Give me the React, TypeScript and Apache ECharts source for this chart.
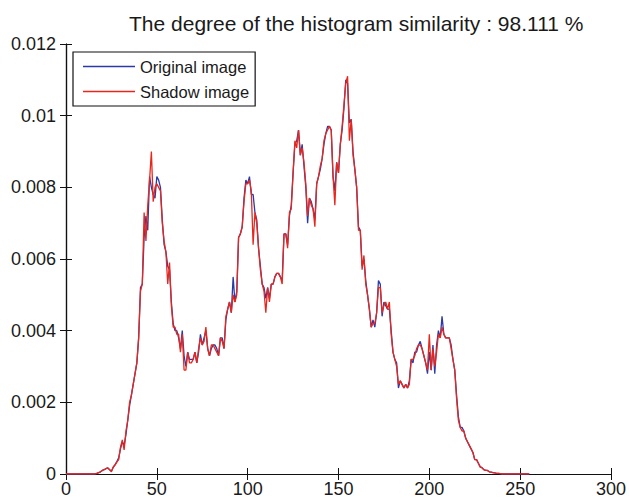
import React, { useEffect, useRef } from "react";
import * as echarts from "echarts";

const TITLE = "The degree of the histogram similarity : 98.111 %";
const SERIES_NAMES = ["Original image", "Shadow image"];
const X_TICKS = [0, 50, 100, 150, 200, 250, 300];
const Y_TICKS = [0, 0.002, 0.004, 0.006, 0.008, 0.01, 0.012];

// gray levels 0..255
const originalImage: number[] = [
  0, 0, 0, 0, 0, 0, 0, 0, 0, 0,
  0, 0, 0, 0, 0, 0, 0, 0.00002, 0.00004, 0.00006,
  0.0001, 0.00012, 0.00015, 0.00017, 0.00012, 0.00008, 0.00018, 0.00026, 0.00035, 0.00045,
  0.0007, 0.0009, 0.0008, 0.0011, 0.0015, 0.0019, 0.0022, 0.0025, 0.0028, 0.0031,
  0.0038, 0.0052, 0.0053, 0.0066, 0.0072, 0.0068, 0.0083, 0.008, 0.0078, 0.0077,
  0.0083, 0.0082, 0.008, 0.0071, 0.0064, 0.0062, 0.0058, 0.0057, 0.0048, 0.0042,
  0.004, 0.004, 0.0038, 0.0035, 0.004, 0.0033, 0.003, 0.0034, 0.0032, 0.0032,
  0.0032, 0.0034, 0.0031, 0.0034, 0.0039, 0.0036, 0.0038, 0.004, 0.0035, 0.0033,
  0.0035, 0.0036, 0.0036, 0.0035, 0.0033, 0.0038, 0.0038, 0.0035, 0.0043, 0.0046,
  0.0048, 0.0045, 0.0055, 0.0048, 0.0051, 0.0066, 0.0067, 0.0069, 0.0077, 0.0082,
  0.0081, 0.0083, 0.0078, 0.0078, 0.0073, 0.0071, 0.0063, 0.0058, 0.0053, 0.0052,
  0.0049, 0.0052, 0.0049, 0.0053, 0.0053, 0.0055, 0.0056, 0.0056, 0.0055, 0.0054,
  0.0067, 0.0067, 0.0064, 0.0072, 0.0075, 0.0084, 0.0092, 0.0093, 0.0096, 0.0089,
  0.0092, 0.0086, 0.008, 0.007, 0.0077, 0.0076, 0.0074, 0.0071, 0.0081, 0.0083,
  0.0085, 0.0088, 0.0092, 0.0095, 0.0097, 0.0097, 0.0096, 0.0083, 0.0079, 0.0087,
  0.0084, 0.0092, 0.0096, 0.0102, 0.011, 0.0109, 0.0098, 0.0099, 0.009, 0.0085,
  0.008, 0.0069, 0.0068, 0.0058, 0.006, 0.0054, 0.005, 0.0046, 0.0041, 0.0043,
  0.0041, 0.0045, 0.0054, 0.0053, 0.0044, 0.0048, 0.0047, 0.0046, 0.0046, 0.004,
  0.0034, 0.0032, 0.0031, 0.0024, 0.0026, 0.0025, 0.0024, 0.0025, 0.0024, 0.0026,
  0.0032, 0.0031, 0.0034, 0.0034, 0.0036, 0.0037, 0.0035, 0.0033, 0.0031, 0.0028,
  0.0034, 0.0029, 0.0036, 0.0028, 0.0036, 0.004, 0.0038, 0.0044, 0.0039, 0.0038,
  0.0038, 0.0038, 0.0036, 0.0032, 0.0029, 0.0022, 0.0016, 0.0013, 0.0013, 0.0012,
  0.001, 0.0009, 0.0008, 0.0007, 0.0006, 0.0004, 0.0004, 0.0003, 0.0002, 0.00018,
  0.00012, 0.0001, 0.0001, 0.00006, 0.00005, 0.00004, 0.00003, 0.00002, 0.00002, 0.00001,
  0, 0, 0, 0, 0, 0, 0, 0, 0, 0,
  0, 0, 0, 0, 0, 0,
];

const shadowImage: number[] = [
  0, 0, 0, 0, 0, 0, 0, 0, 0, 0,
  0, 0, 0, 0, 0, 0, 0, 0.00002, 0.00004, 0.00006,
  0.0001, 0.00012, 0.00015, 0.00017, 0.00012, 0.00006, 0.0002, 0.00025, 0.00033, 0.0004,
  0.00075, 0.00095, 0.00067, 0.0012, 0.0015, 0.002, 0.0022, 0.0025, 0.0028, 0.0031,
  0.0038, 0.0051, 0.0053, 0.0073, 0.0065, 0.0075, 0.0082, 0.009, 0.0076, 0.008,
  0.0081, 0.008, 0.0079, 0.007, 0.0065, 0.0062, 0.0053, 0.0059, 0.0047, 0.0041,
  0.0041, 0.0039, 0.0039, 0.0034, 0.0039, 0.0029, 0.0029, 0.0034, 0.0031, 0.0031,
  0.0032, 0.0034, 0.0031, 0.0035, 0.0038, 0.0036, 0.0037, 0.0041, 0.0035, 0.0033,
  0.0036, 0.0036, 0.0035, 0.0034, 0.0033, 0.0038, 0.0037, 0.0035, 0.0044, 0.0046,
  0.0048, 0.0045, 0.005, 0.0048, 0.005, 0.0066, 0.0067, 0.0069, 0.0076, 0.0081,
  0.0081, 0.0082, 0.0079, 0.0064, 0.0073, 0.007, 0.0063, 0.0057, 0.0053, 0.0051,
  0.0045, 0.0052, 0.0048, 0.0053, 0.0053, 0.0055, 0.0056, 0.0056, 0.0055, 0.0053,
  0.0067, 0.0067, 0.0063, 0.0073, 0.0074, 0.0084, 0.0093, 0.0091, 0.0096, 0.0089,
  0.0091, 0.0087, 0.0081, 0.0072, 0.0077, 0.0075, 0.0074, 0.0069, 0.0081, 0.0083,
  0.0086, 0.0088, 0.0093, 0.0095, 0.0096, 0.0097, 0.0096, 0.0083, 0.0075, 0.0087,
  0.0084, 0.0092, 0.0097, 0.0103, 0.0109, 0.0111, 0.0093, 0.0099, 0.0089, 0.0085,
  0.008, 0.0068, 0.0068, 0.0057, 0.0061, 0.0053, 0.005, 0.0046, 0.0041, 0.0042,
  0.0042, 0.0045, 0.0052, 0.0052, 0.0045, 0.0047, 0.0048, 0.0046, 0.0048, 0.0039,
  0.0034, 0.0032, 0.003, 0.0025, 0.0026, 0.0025, 0.0024, 0.0025, 0.0024, 0.0025,
  0.0032, 0.0032, 0.0033, 0.0035, 0.0036, 0.0036, 0.0035, 0.0033, 0.0031, 0.0029,
  0.0039, 0.0029, 0.0035, 0.003, 0.0034, 0.0039, 0.0038, 0.0041, 0.0039, 0.0038,
  0.0038, 0.0038, 0.0035, 0.0032, 0.0029, 0.0021, 0.0015, 0.0013, 0.0012, 0.0012,
  0.001, 0.0009, 0.0008, 0.0007, 0.0006, 0.0004, 0.0004, 0.0003, 0.0002, 0.00017,
  0.00012, 0.0001, 0.0001, 0.00006, 0.00005, 0.00004, 0.00003, 0.00002, 0.00002, 0.00001,
  0, 0, 0, 0, 0, 0, 0, 0, 0, 0,
  0, 0, 0, 0, 0, 0,
];

const FONT = "'Liberation Sans', Arial, Helvetica, sans-serif";
const TEXT = "#1a1a1a";

export default function App() {
  const ref = useRef<HTMLDivElement>(null);
  useEffect(() => {
    if (!ref.current) return;
    const chart = echarts.init(ref.current, undefined, { renderer: "svg" });
    const toPairs = (arr: number[]) => arr.map((v, i) => [i, v]);
    const axisCommon = {
      axisLine: { show: true, lineStyle: { color: "#111", width: 1.2 } },
      axisTick: { show: true, inside: true, length: 6, lineStyle: { color: "#111" } },
      splitLine: { show: false },
    };
    chart.setOption({
      animation: false,
      backgroundColor: "#fff",
      title: {
        text: TITLE,
        left: 124,
        top: 8,
        textStyle: { fontFamily: FONT, fontSize: 21, fontWeight: "normal", color: TEXT },
      },
      legend: {
        orient: "vertical",
        left: 73,
        top: 52,
        data: SERIES_NAMES,
        icon: "rect",
        itemWidth: 52,
        itemHeight: 1.5,
        itemGap: 8,
        borderColor: "#111",
        borderWidth: 1.2,
        padding: [6, 6, 6, 10],
        textStyle: { fontFamily: FONT, fontSize: 16.5, color: TEXT },
      },
      grid: { left: 66, right: 18, top: 44, bottom: 29 },
      xAxis: [
        {
          type: "value",
          min: 0,
          max: 300,
          interval: 50,
          ...axisCommon,
          axisLabel: { fontFamily: FONT, fontSize: 18, color: TEXT, margin: 6 },
        },
        {
          type: "value",
          position: "top",
          min: 0,
          max: 300,
          interval: 50,
          ...axisCommon,
          axisLabel: { show: false },
        },
      ],
      yAxis: [
        {
          type: "value",
          min: 0,
          max: 0.012,
          interval: 0.002,
          ...axisCommon,
          axisLabel: {
            fontFamily: FONT,
            fontSize: 18,
            color: TEXT,
            margin: 10,
            formatter: (v: number) => {
              const t = Y_TICKS.find((y) => Math.abs(y - v) < 1e-9);
              return t === undefined ? "" : String(t);
            },
          },
        },
        {
          type: "value",
          position: "right",
          min: 0,
          max: 0.012,
          interval: 0.002,
          ...axisCommon,
          axisLabel: { show: false },
        },
      ],
      series: [
        {
          name: SERIES_NAMES[0],
          type: "line",
          data: toPairs(originalImage),
          showSymbol: false,
          symbol: "none",
          lineStyle: { color: "#2b3aa8", width: 1.3 },
          itemStyle: { color: "#2b3aa8" },
        },
        {
          name: SERIES_NAMES[1],
          type: "line",
          data: toPairs(shadowImage),
          showSymbol: false,
          symbol: "none",
          lineStyle: { color: "#e8261c", width: 1.3 },
          itemStyle: { color: "#e8261c" },
        },
      ],
    });
    return () => chart.dispose();
  }, []);
  void X_TICKS;
  return <div ref={ref} style={{ width: 629, height: 503, position: "absolute", left: 0, top: 0 }} />;
}
